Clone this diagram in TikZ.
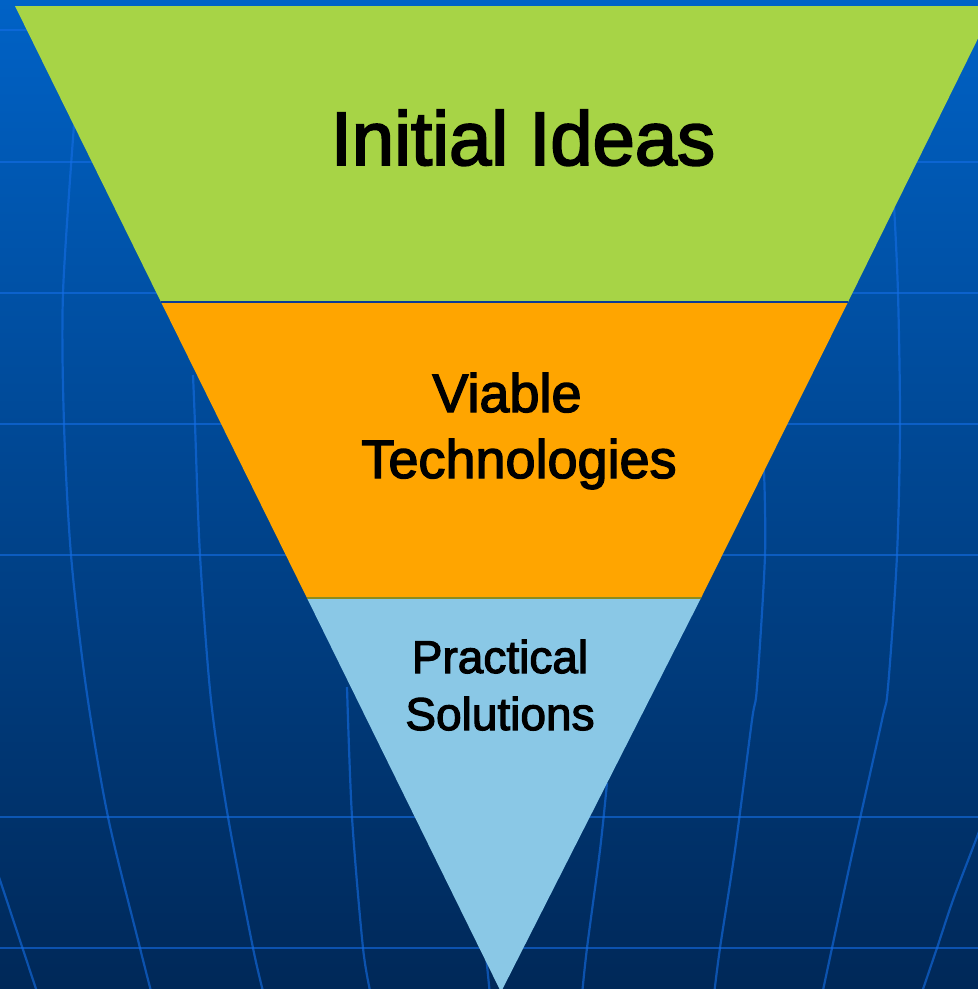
\documentclass[tikz,border=0pt]{standalone}
\usepackage{fontspec}
\setmainfont{Liberation Sans}
\newfontfamily\heavyfont[FakeBold=2.5]{Liberation Sans}
\definecolor{bgtop}{RGB}{0,98,198}
\definecolor{bgmid}{RGB}{0,72,150}
\definecolor{bgbot}{RGB}{0,40,88}
\definecolor{gridblue}{RGB}{20,110,230}
\definecolor{tiergreen}{RGB}{167,212,70}
\definecolor{tierorange}{RGB}{255,165,0}
\definecolor{tierblue}{RGB}{138,200,230}
\definecolor{sepblue}{RGB}{10,60,150}
\definecolor{sepolive}{RGB}{140,140,30}
\begin{document}
\begin{tikzpicture}[x=1pt,y=-1pt,
  gridline/.style={draw=gridblue,line width=2.2pt,opacity=0.6},
  lbl/.style={inner sep=0pt,anchor=base,text=black}]
\useasboundingbox (0,0) rectangle (978,989);
\clip (0,0) rectangle (978,989);
\shade[top color=bgtop,middle color=bgmid,bottom color=bgbot] (0,0) rectangle (978,989);
% horizontal grid lines
\foreach \yy in {30,162,293,424,555,817,948}
  \draw[gridline] (0,\yy) -- (978,\yy);
% curved meridians
\draw[gridline] plot[smooth] coordinates {(74,125) (63,293) (64,424) (71,555) (86,687) (108,817) (140,948) (152,995)};
\draw[gridline] plot[smooth] coordinates {(193,375) (195,424) (200,555) (211,700) (228,817) (253,948) (264,995)};
\draw[gridline] plot[smooth] coordinates {(347,687) (352,817) (363,948) (371,995)};
\draw[gridline] plot[smooth] coordinates {(-10,850) (0,880) (38,995)};
\draw[gridline] (486,955) -- (490,995);
\draw[gridline] plot[smooth] coordinates {(607,783) (600,850) (587,948) (582,995)};
\draw[gridline] plot[smooth] coordinates {(764,470) (765,555) (757,687) (752,720) (735,850) (720,948) (714,995)};
\draw[gridline] plot[smooth] coordinates {(894,205) (898,293) (900,424) (897,555) (888,687) (882,720) (853,850) (832,948) (822,995)};
\draw[gridline] plot[smooth] coordinates {(995,790) (972,850) (953,900) (937,948) (921,995)};
% funnel
\coordinate (gTL) at (15,6);
\coordinate (gTR) at (994,6);
\coordinate (mL) at (161,302);
\coordinate (mR) at (848,302);
\coordinate (bL) at (307,598);
\coordinate (bR) at (701,598);
\coordinate (apex) at (501,992);
\fill[tiergreen] (gTL) -- (gTR) -- (mR) -- (mL) -- cycle;
\fill[tierorange] (mL) -- (mR) -- (bR) -- (bL) -- cycle;
\fill[tierblue] (bL) -- (bR) -- (apex) -- cycle;
\draw[sepblue,line width=1.6pt] (mL) -- (mR);
\draw[sepolive,line width=1.6pt] (bL) -- (bR);
% labels
\node[lbl,font=\heavyfont\fontsize{76}{80}\selectfont] (t1) at (523,165) {Initial Ideas};
\node[lbl,font=\heavyfont\fontsize{54}{60}\selectfont] (t2a) at (507,412) {Viable};
\node[lbl,font=\heavyfont\fontsize{54}{60}\selectfont] (t2b) at (519,478) {Technologies};
\node[lbl,font=\heavyfont\fontsize{46}{50}\selectfont] (t3a) at (500,673) {Practical};
\node[lbl,font=\heavyfont\fontsize{46}{50}\selectfont] (t3b) at (500,730) {Solutions};
\end{tikzpicture}
\end{document}
